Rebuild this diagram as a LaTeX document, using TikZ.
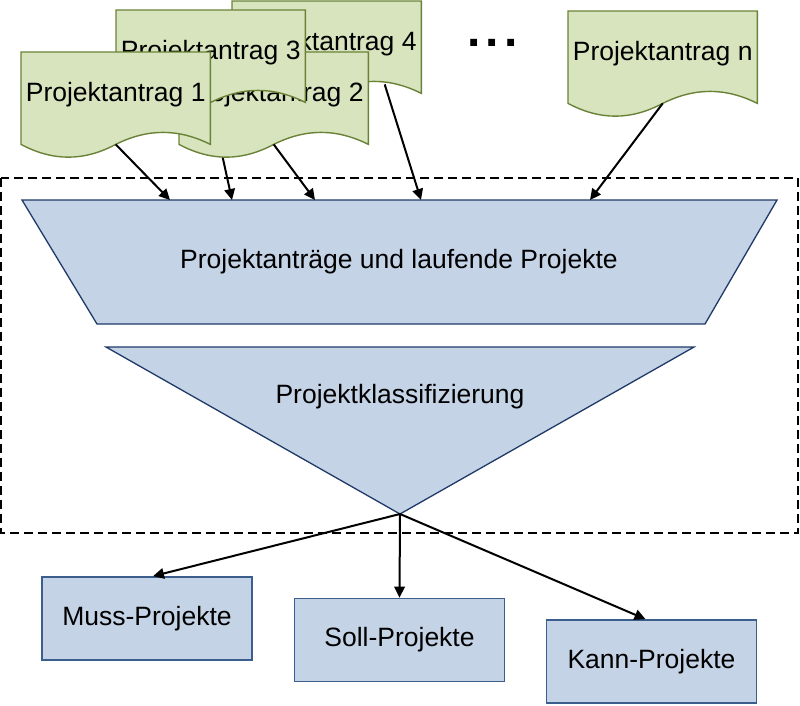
\documentclass[tikz,border=0pt]{standalone}
\usepackage{fontspec}
\setmainfont{Liberation Sans}
\usetikzlibrary{arrows.meta,calc}
\definecolor{docfill}{HTML}{D7E4BD}
\definecolor{docline}{HTML}{6A8238}
\definecolor{bluefill}{HTML}{C5D3E6}
\definecolor{blueline}{HTML}{1F3A68}
\definecolor{boxline}{HTML}{3B5E8C}
\tikzset{
  docbox/.style={minimum width=189pt, minimum height=84pt, inner sep=0pt, anchor=north west},
  doclabel/.style={inner sep=0pt, font=\fontsize{26.5}{30}\selectfont},
  docshape/.style={fill=docfill, draw=docline, line width=1.4pt},
  funnel/.style={fill=bluefill, draw=blueline, line width=1.3pt},
  lbl/.style={inner sep=0pt, font=\fontsize{26.5}{30}\selectfont},
  pbox/.style={fill=bluefill, draw=boxline, line width=1.7pt, minimum width=210pt, minimum height=83pt, inner sep=0pt, font=\fontsize{26.5}{30}\selectfont},
  arr/.style={-{Triangle[length=11pt,width=10.5pt]}, line width=2pt},
  dashbox/.style={draw=black, line width=1.4pt, dash pattern=on 9pt off 5pt}
}
\newcommand\docpath[1]{%
  \filldraw[docshape] (#1.north west) -- (#1.north east) -- ($(#1.south east)+(0,8)$)
  .. controls ($(#1.south east)+(-32,-8)$) and ($(#1.south)+(32,-8)$) .. ($(#1.south)+(0,8)$)
  .. controls ($(#1.south)+(-32,25)$) and ($(#1.south west)+(32,25)$) .. ($(#1.south west)+(0,8)$) -- cycle;}
\begin{document}
\begin{tikzpicture}[x=1pt,y=-1pt]
\useasboundingbox (0,0) rectangle (800,705);
% dashed frame
\draw[dashbox] (1,178) rectangle (798,533);
% funnel shapes
\filldraw[funnel] (22,200) -- (777,200) -- (705,324) -- (97,324) -- cycle;
\node[lbl] (pa) at (399,262) {Projektanträge und laufende Projekte};
\filldraw[funnel] (106,347) -- (694,347) -- (400,514) -- cycle;
\node[lbl] (pk) at (400,397) {Projektklassifizierung};
\coordinate (apex) at (400,514);
% arrow targets
\coordinate (t1) at (170,200);
\coordinate (t2) at (232,200);
\coordinate (t3) at (315,200);
\coordinate (t4) at (421,200);
\coordinate (t5) at (590,200);
% documents
\node[docbox] (d4) at (232,1) {};
\node[docbox] (d3) at (116,10) {};
\node[docbox] (d2) at (179,52) {};
\node[docbox] (d1) at (21,52) {};
\node[docbox] (dn) at (568,11) {};
\docpath{d4}
\node[doclabel] (d4t) at (d4.center) {Projektantrag 4};
\draw[arr] ($(d4.south)+(58,-1)$) -- (t4);
\draw[arr] ($(d3.south)+(0,8)$) -- (t2);
\docpath{d2}
\node[doclabel] (d2t) at (d2.center) {Projektantrag 2};
\docpath{d3}
\node[doclabel] (d3t) at (d3.center) {Projektantrag 3};
\docpath{d1}
\node[doclabel] (d1t) at (d1.center) {Projektantrag 1};
\draw[arr] ($(d1.south)+(0,8)$) -- (t1);
\draw[arr] ($(d2.south)+(0,8)$) -- (t3);
\docpath{dn}
\node[doclabel] (dnt) at (dn.center) {Projektantrag n};
\draw[arr] ($(dn.south)+(0,8)$) -- (t5);
% ellipsis
\node[anchor=base, inner sep=0pt, font=\fontsize{48}{48}\selectfont\bfseries] (dots) at (492.5,46) {.\hspace{5pt}.\hspace{5pt}.};
% result boxes
\node[pbox] (muss) at (147,618.5) {Muss-Projekte};
\node[pbox] (soll) at (399.5,640) {Soll-Projekte};
\node[pbox] (kann) at (651.5,661.5) {Kann-Projekte};
\draw[arr] (apex) -- ($(muss.north)+(6,0)$);
\draw[arr] (apex) -- (soll.north);
\draw[arr] (apex) -- ($(kann.north)+(-6,0)$);
\end{tikzpicture}
\end{document}
